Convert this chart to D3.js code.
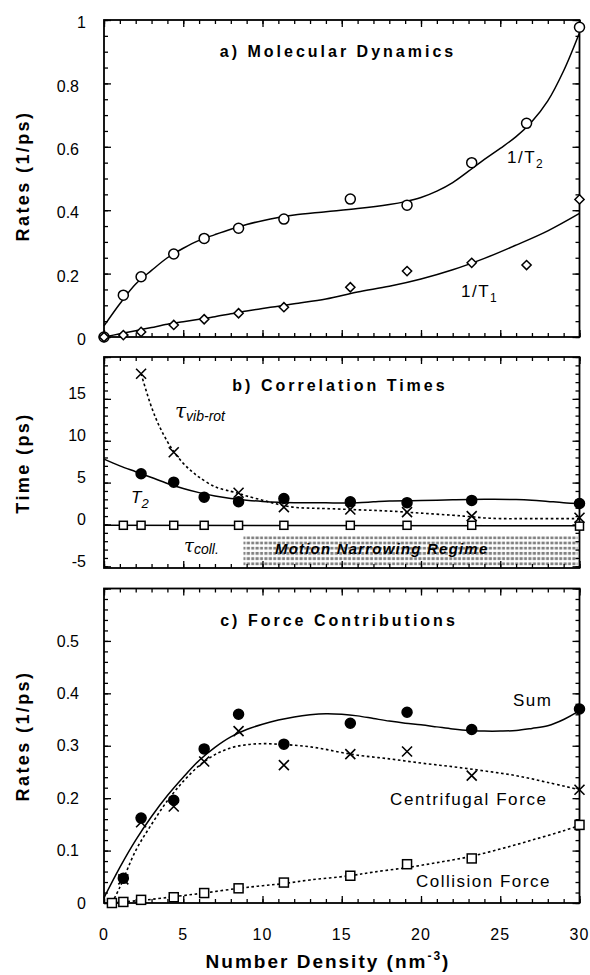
<!DOCTYPE html>
<html>
<head>
<meta charset="utf-8">
<script src="https://cdn.jsdelivr.net/npm/d3@7"></script>
<style>
  body { margin: 0; background: #fff; }
  svg { display: block; font-family: "Liberation Sans", Arial, Helvetica, sans-serif; }
</style>
</head>
<body>
<svg id="chart" width="590" height="975"></svg>
<script>
// ---- panel a) molecular dynamics: rates vs density ----
const densityA = [0, 1.22, 2.34, 4.4, 6.32, 8.49, 11.35, 15.54, 19.12, 23.2, 26.66, 30];
const invT2 = [0, 0.132, 0.19, 0.262, 0.311, 0.343, 0.372, 0.435, 0.416, 0.55, 0.674, 0.977];
const invT1 = [0, 0.006, 0.016, 0.038, 0.056, 0.075, 0.094, 0.157, 0.208, 0.234, 0.227, 0.434];
const fitT2x = [0, 1, 2, 3, 4, 5, 6, 7, 8, 9, 10, 11, 12, 14, 16, 18, 19, 20, 21, 22, 23, 24, 25, 26, 27, 28, 29, 30];
const fitT2y = [0.035, 0.105, 0.167, 0.21, 0.25, 0.28, 0.305, 0.323, 0.34, 0.355, 0.367, 0.377, 0.385, 0.395, 0.405, 0.418, 0.427, 0.44, 0.46, 0.487, 0.523, 0.56, 0.595, 0.632, 0.68, 0.745, 0.84, 0.96];
const fitT1x = [0, 1, 2, 3, 4, 5, 6, 7, 8, 9, 10, 11, 12, 14, 16, 18, 20, 22, 24, 26, 28, 30];
const fitT1y = [0, 0.01, 0.02, 0.03, 0.04, 0.048, 0.056, 0.064, 0.073, 0.082, 0.09, 0.097, 0.105, 0.12, 0.142, 0.16, 0.183, 0.212, 0.248, 0.29, 0.335, 0.39];

// ---- panel b) correlation times ----
const densityT2 = [2.34, 4.4, 6.32, 8.49, 11.35, 15.54, 19.12, 23.2, 30];
const timeT2 = [6.05, 5.05, 3.26, 2.71, 3.1, 2.71, 2.6, 2.87, 2.5];
const densityVib = [2.34, 4.4, 8.49, 11.35, 15.54, 19.12, 23.2, 30];
const timeVib = [18.0, 8.63, 3.79, 2.07, 1.79, 1.47, 0.99, 0.8];
const densityColl = [1.22, 2.34, 4.4, 6.32, 8.49, 11.35, 15.54, 19.12, 23.2, 30];
const timeColl = [-0.1, -0.1, -0.1, -0.1, -0.1, -0.1, -0.1, -0.1, -0.1, -0.2];
const fitBT2x = [0, 1, 2, 3, 4, 5, 6, 7, 8, 9, 10, 11, 12, 14, 15, 16, 17, 18, 20, 22, 24, 26, 27, 28, 29, 30];
const fitBT2y = [7.8, 7.0, 6.3, 5.6, 4.9, 4.3, 3.8, 3.4, 3.1, 2.9, 2.75, 2.65, 2.6, 2.58, 2.55, 2.6, 2.7, 2.8, 2.85, 2.95, 3.0, 2.98, 2.9, 2.75, 2.6, 2.5];
const fitVibx = [2.34, 3, 3.5, 4, 4.4, 5, 5.5, 6, 7, 8, 8.5, 9, 10, 11, 12, 13, 14, 16, 18, 20, 22, 23, 24, 25, 27, 30];
const fitViby = [18, 14.0, 11.7, 9.9, 8.7, 7.3, 6.4, 5.65, 4.5, 3.95, 3.7, 3.4, 2.9, 2.4, 2.05, 1.95, 1.9, 1.75, 1.6, 1.35, 1.1, 0.95, 0.78, 0.7, 0.7, 0.7];
const fitCollx = [0, 30];
const fitColly = [-0.1, -0.15];
const narrowingRegime = [8.8, 30, -1.4];   // x from, x to, y top (ps)

// ---- panel c) force contributions ----
const densityC = [1.22, 2.34, 4.4, 6.32, 8.49, 11.35, 15.54, 19.12, 23.2, 30];
const sumRate = [0.047, 0.162, 0.196, 0.294, 0.36, 0.303, 0.343, 0.364, 0.331, 0.37];
const centrifugal = [0.045, 0.154, 0.184, 0.27, 0.328, 0.263, 0.284, 0.289, 0.243, 0.216];
const densityCollC = [0.5, 1.22, 2.34, 4.4, 6.32, 8.49, 11.35, 15.54, 19.12, 23.2, 30];
const collision = [0, 0.002, 0.006, 0.011, 0.019, 0.028, 0.039, 0.052, 0.074, 0.085, 0.149];
const fitSumx = [0, 1, 2, 3, 4, 5, 6, 7, 8, 9, 10, 11, 12, 13, 14, 15, 16, 17, 18, 19, 20, 21, 22, 23, 24, 25, 26, 27, 28, 29, 30];
const fitSumy = [0.01, 0.068, 0.12, 0.165, 0.205, 0.24, 0.272, 0.297, 0.317, 0.331, 0.341, 0.349, 0.355, 0.359, 0.361, 0.36, 0.357, 0.352, 0.347, 0.343, 0.34, 0.336, 0.332, 0.329, 0.328, 0.328, 0.329, 0.333, 0.338, 0.35, 0.367];
const fitCentx = [0.5, 1, 2, 3, 4, 5, 6, 7, 8, 9, 10, 11, 12, 13, 14, 15, 16, 18, 20, 22, 24, 26, 28, 30];
const fitCenty = [0, 0.03, 0.1, 0.15, 0.195, 0.232, 0.262, 0.283, 0.296, 0.302, 0.304, 0.303, 0.301, 0.298, 0.293, 0.287, 0.282, 0.275, 0.267, 0.26, 0.252, 0.243, 0.23, 0.216];
const fitCollCx = [0.5, 1.2, 2.3, 3, 4.4, 6.3, 8.5, 10, 11.35, 13, 15.5, 17, 19, 21, 23, 25, 27, 29, 30];
const fitCollCy = [0, 0.002, 0.005, 0.007, 0.012, 0.019, 0.028, 0.033, 0.037, 0.044, 0.052, 0.059, 0.067, 0.077, 0.088, 0.103, 0.12, 0.138, 0.148];

// ---- ticks ----
const xLabels = [0, 5, 10, 15, 20, 25, 30];
const yLabelsA = ["0", "0.2", "0.4", "0.6", "0.8", "1"];
const yLabelsB = ["-5", "0", "5", "10", "15"];
const yLabelsC = ["0", "0.1", "0.2", "0.3", "0.4", "0.5"];

const svg = d3.select("#chart");
const x = d3.scaleLinear().domain([0, 30]).range([104, 579.5]);
const yA = d3.scaleLinear().domain([0, 1]).range([337, 20]);
const yB = d3.scaleLinear().domain([-5.2, 20]).range([568, 357]);
const yC = d3.scaleLinear().domain([0, 0.6]).range([903, 588.5]);

const zip = (xs, ys) => xs.map((v, i) => [v, ys[i]]);

// pattern for the motion narrowing shading
const pat = svg.append("defs").append("pattern")
  .attr("id", "dots").attr("patternUnits", "userSpaceOnUse")
  .attr("width", 4.4).attr("height", 5.2);
pat.append("rect").attr("x", 0.4).attr("y", 0.8).attr("width", 3).attr("height", 2.8).attr("fill", "#808080");

function frame(y, minor, major, labels, labelDx, labelDy) {
  const [bottom, top] = y.range();
  const g = svg.append("g").attr("stroke-width", 1.3);
  const mk = (axis, tx, ty) => g.append("g").attr("transform", `translate(${tx},${ty})`).call(axis);
  [[minor, 4], [major, 7]].forEach(([vals, len]) => {
    mk(d3.axisLeft(y).tickValues(vals).tickSize(-len).tickFormat(""), 104, 0);
    mk(d3.axisRight(y).tickValues(vals).tickSize(-len).tickFormat(""), 579.5, 0);
  });
  [[d3.range(0, 31, 1), 4], [d3.range(0, 31, 5), 7]].forEach(([vals, len]) => {
    mk(d3.axisBottom(x).tickValues(vals).tickSize(-len).tickFormat(""), 0, bottom);
    mk(d3.axisTop(x).tickValues(vals).tickSize(-len).tickFormat(""), 0, top);
  });
  g.selectAll(".domain").remove();
  g.selectAll(".tick line").attr("stroke", "#000");
  svg.append("rect").attr("x", 104).attr("y", top).attr("width", 579.5 - 104).attr("height", bottom - top)
    .attr("fill", "none").attr("stroke", "#000").attr("stroke-width", 1.8);
  svg.append("g").selectAll("text").data(labels).join("text")
    .attr("x", d => d.includes(".") ? 79 : 86)
    .attr("y", d => y(+d) + labelDy)
    .attr("dy", "0.35em")
    .attr("text-anchor", "end")
    .attr("font-size", 16)
    .text(d => d);
}

function curve(y, xs, ys, dashed) {
  svg.append("path")
    .datum(zip(xs, ys))
    .attr("fill", "none").attr("stroke", "#000")
    .attr("stroke-width", dashed ? 1.6 : 1.5)
    .attr("stroke-dasharray", dashed ? "2.6,2.6" : null)
    .attr("d", d3.line().x(d => x(d[0])).y(d => y(d[1])).curve(d3.curveCatmullRom.alpha(0.5)));
}

function circles(y, xs, ys, filled, r) {
  svg.append("g").selectAll("circle").data(zip(xs, ys)).join("circle")
    .attr("cx", d => x(d[0])).attr("cy", d => y(d[1])).attr("r", r)
    .attr("fill", filled ? "#000" : "#fff").attr("stroke", "#000").attr("stroke-width", 1.5);
}
function diamonds(y, xs, ys) {
  svg.append("g").selectAll("path").data(zip(xs, ys)).join("path")
    .attr("d", d => { const cx = x(d[0]), cy = y(d[1]), s = 4.6;
      return `M${cx},${cy - s}L${cx + s},${cy}L${cx},${cy + s}L${cx - s},${cy}Z`; })
    .attr("fill", "#fff").attr("stroke", "#000").attr("stroke-width", 1.5);
}
function crosses(y, xs, ys) {
  svg.append("g").selectAll("path").data(zip(xs, ys)).join("path")
    .attr("d", d => { const cx = x(d[0]), cy = y(d[1]), s = 5;
      return `M${cx - s},${cy - s}L${cx + s},${cy + s}M${cx - s},${cy + s}L${cx + s},${cy - s}`; })
    .attr("fill", "none").attr("stroke", "#000").attr("stroke-width", 1.6);
}
function squares(y, xs, ys, s) {
  svg.append("g").selectAll("rect").data(zip(xs, ys)).join("rect")
    .attr("x", d => x(d[0]) - s / 2).attr("y", d => y(d[1]) - s / 2)
    .attr("width", s).attr("height", s)
    .attr("fill", "#fff").attr("stroke", "#000").attr("stroke-width", 1.5);
}

function label(px, py, main, sub, opts = {}) {
  const t = svg.append("text").attr("x", px).attr("y", py)
    .attr("font-size", opts.size || 17)
    .attr("font-style", opts.italic ? "italic" : null)
    .attr("font-family", opts.family || null)
    .attr("letter-spacing", opts.spacing || 0);
  t.append("tspan").text(main);
  if (sub) t.append("tspan").attr("dy", opts.subDy || 5).attr("font-size", opts.subSize || 12)
    .attr("font-family", opts.subFamily || null).text(sub);
  return t;
}
function title(px, py, txt) {
  svg.append("text").attr("x", px).attr("y", py).attr("text-anchor", "middle")
    .attr("font-size", 16).attr("font-weight", "bold").attr("letter-spacing", 3).text(txt);
}

// ---- panel a ----
frame(yA, d3.range(0, 1.001, 0.05), d3.range(0, 1.001, 0.2), yLabelsA, 0, 2.5);
curve(yA, fitT2x, fitT2y, false);
curve(yA, fitT1x, fitT1y, false);
circles(yA, densityA, invT2, false, 5);
diamonds(yA, densityA, invT1);
title(338, 57, "a) Molecular Dynamics");
label(507, 163, "1/T", "2", { spacing: 1.5 });
label(461, 297, "1/T", "1", { spacing: 1.5 });

// ---- panel b ----
svg.append("rect")
  .attr("x", x(narrowingRegime[0])).attr("y", yB(narrowingRegime[2]))
  .attr("width", x(narrowingRegime[1]) - x(narrowingRegime[0]) - 2)
  .attr("height", yB(-5.2) - yB(narrowingRegime[2]) - 1)
  .attr("fill", "url(#dots)");
frame(yB, d3.range(-5, 20.001, 1), d3.range(-5, 20.001, 5), yLabelsB, 0, -5);
curve(yB, fitCollx, fitColly, false);
curve(yB, fitBT2x, fitBT2y, false);
curve(yB, fitVibx, fitViby, true);
squares(yB, densityColl, timeColl, 8);
crosses(yB, densityVib, timeVib);
circles(yB, densityT2, timeT2, true, 5);
title(340, 391, "b) Correlation Times");
svg.append("text").attr("x", 275).attr("y", 554)
  .attr("font-size", 15).attr("font-weight", "bold").attr("font-style", "italic")
  .attr("letter-spacing", 1.2).text("Motion Narrowing Regime");
label(175, 418, "\u03c4", "vib-rot", { italic: true, size: 20, subSize: 14, subDy: 3, family: "DejaVu Serif", subFamily: "Liberation Sans" });
label(184, 552, "\u03c4", "coll.", { italic: true, size: 18, subSize: 14, subDy: 2, family: "DejaVu Serif", subFamily: "Liberation Sans" });
label(131, 503, "T", "2", { italic: true, size: 17, subSize: 13, subDy: 5 });

// ---- panel c ----
frame(yC, d3.range(0, 0.601, 0.02), d3.range(0, 0.601, 0.1), yLabelsC, 0, 0);
curve(yC, fitCollCx, fitCollCy, true);
curve(yC, fitCentx, fitCenty, true);
curve(yC, fitSumx, fitSumy, false);
squares(yC, densityCollC, collision, 9);
crosses(yC, densityC, centrifugal);
circles(yC, densityC, sumRate, true, 5);
title(339, 626, "c) Force Contributions");
label(513, 706, "Sum", null, { spacing: 1.5 });
label(390, 805, "Centrifugal Force", null, { spacing: 1.6 });
label(416, 887, "Collision Force", null, { spacing: 1.5 });

// x tick labels (bottom panel only)
svg.append("g").selectAll("text").data(xLabels).join("text")
  .attr("x", d => x(d)).attr("y", 940).attr("text-anchor", "middle")
  .attr("font-size", 16).attr("letter-spacing", 1).text(d => d);

// axis titles
const xt = svg.append("text").attr("x", 328).attr("y", 968).attr("text-anchor", "middle")
  .attr("font-size", 19).attr("font-weight", "bold").attr("letter-spacing", 2);
xt.append("tspan").text("Number Density (nm");
xt.append("tspan").attr("dy", -8).attr("font-size", 12).text("-3");
xt.append("tspan").attr("dy", 8).text(")");

[["Rates (1/ps)", 176], ["Time (ps)", 463], ["Rates (1/ps)", 736]].forEach(([t, cy]) => {
  svg.append("text").attr("transform", `translate(29,${cy}) rotate(-90)`)
    .attr("text-anchor", "middle").attr("font-size", 18).attr("font-weight", "bold")
    .attr("letter-spacing", 2.4).text(t);
});
</script>
</body>
</html>
